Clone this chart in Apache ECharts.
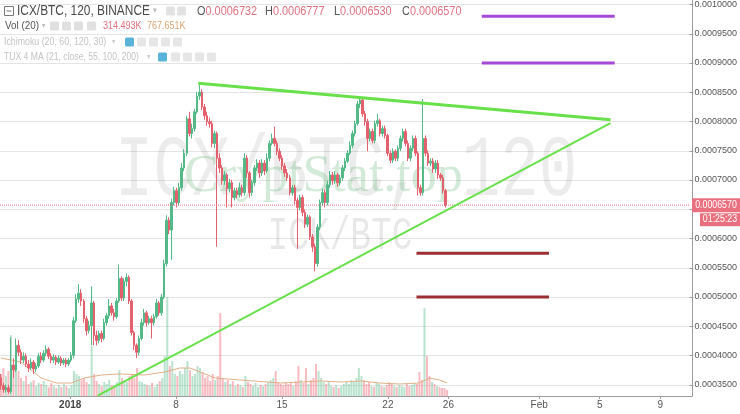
<!DOCTYPE html>
<html><head><meta charset="utf-8">
<script src="https://cdn.jsdelivr.net/npm/echarts@6/dist/echarts.min.js"></script>
<style>html,body{margin:0;padding:0;background:#fff;}#c{width:740px;height:414px;}</style>
</head><body><div id="c"></div>
<script>
// ICX/BTC (BINANCE) — bars at 4-hour resolution.
// Time index: days relative to 1 Jan 2018 00:00; first bar centred on 27 Dec 2017 10:00.
const firstBarDay = -4.5833;
const barStepDays = 4 / 24;
// Prices in units of 0.0000001 BTC
const PRICE_UNIT = 1e-7;
const opens = [3618,3483,3416,3449,3382,3837,3753,4174,4055,3921,
3988,3854,3787,3887,3770,3820,3988,3921,4038,4106,
3988,3921,3972,3887,3955,3870,3921,3854,3921,4005,
4595,4965,5066,4931,4628,4426,4510,4898,4342,4258,
4376,4291,4561,4679,4847,4729,4662,4931,5318,4982,
5268,5335,4931,4392,4174,4055,4291,4561,4729,4561,
4628,4561,4662,4898,4729,4999,5571,6312,6144,6615,
6817,6615,6868,7205,7457,8047,7794,7878,8165,8434,
8501,8249,8097,7996,7963,7626,7794,7373,7205,6986,
7087,6851,6952,6700,6817,6750,6868,6784,7373,7121,
6784,6952,7205,7289,7121,7289,7154,7373,7626,7710,
7626,7491,7373,7238,7121,7036,6784,6868,6649,6531,
6700,6447,6245,6363,6026,5858,5571,6194,6615,6784,
6615,6918,7087,6986,7087,6952,7036,7205,7322,7457,
7592,7794,7963,8299,8367,8131,7996,7710,7828,7676,
7963,8013,7794,7878,7760,7457,7339,7491,7373,7542,
7710,7828,7626,7373,7542,7710,7457,6868,6784,7710,
7457,7289,7322,7188,7289,7087,7036,6817];
const closes = [3483,3416,3449,3382,3837,3753,4174,4055,3921,3988,
3854,3787,3887,3770,3820,3988,3921,4038,4106,3988,
3921,3972,3887,3955,3870,3921,3854,3921,4005,4595,
4965,5066,4931,4628,4426,4510,4898,4342,4258,4376,
4291,4561,4679,4847,4729,4662,4931,5318,4982,5268,
5335,4931,4392,4174,4055,4291,4561,4729,4561,4628,
4561,4662,4898,4729,4999,5571,6312,6144,6615,6817,
6615,6868,7205,7457,8047,7794,7878,8165,8434,8501,
8249,8097,7996,7963,7626,7794,7373,7205,6986,7087,
6851,6952,6700,6817,6750,6868,6784,7373,7121,6784,
6952,7205,7289,7121,7289,7154,7373,7626,7710,7626,
7491,7373,7238,7121,7036,6784,6868,6649,6531,6700,
6447,6245,6363,6026,5858,5571,6194,6615,6784,6615,
6918,7087,6986,7087,6952,7036,7205,7322,7457,7592,
7794,7963,8299,8367,8131,7996,7710,7828,7676,7963,
8013,7794,7878,7760,7457,7339,7491,7373,7542,7710,
7828,7626,7373,7542,7710,7457,6868,6784,7710,7457,
7289,7322,7188,7289,7087,7036,6817,6570];
const highs = [3685,3534,3500,3500,4308,3955,4291,4258,4106,4055,
4038,3921,3955,3921,3870,4038,4055,4089,4174,4140,
4038,4022,4005,4005,3988,3955,3955,3955,4055,4662,
5049,5218,5133,4965,4679,4595,5184,4931,4426,4426,
4426,4628,4729,4965,4898,4797,4982,5554,5352,5318,
5403,5369,4965,4426,4207,4342,4628,4797,4763,4679,
4679,4712,4965,4931,5049,5638,6396,6363,6683,6885,
6868,6952,7289,7525,8097,8165,7963,8215,8501,8653,
8552,8299,8165,8064,8013,7845,7828,7457,7255,7154,
7121,7020,7003,6868,6868,6952,6918,7457,7424,7154,
7003,7255,7356,7339,7356,7339,7457,7676,7794,7912,
7676,7542,7424,7289,7188,7087,6918,6918,6700,6750,
6750,6497,6413,6396,6077,5908,6245,6666,6851,6834,
6986,7154,7137,7154,7121,7087,7255,7373,7508,7660,
7845,8013,8350,8434,8401,8182,8047,7878,7878,8013,
8131,8047,7929,7929,7794,7508,7542,7525,7592,7760,
7878,7878,7676,7592,7760,7760,7491,6918,8384,7760,
7508,7373,7373,7339,7339,7121,7087,6850];
const lows = [3416,3365,3365,3348,3348,3618,3719,3988,3854,3870,
3803,3719,3753,3685,3719,3787,3870,3887,3988,3938,
3870,3870,3837,3854,3820,3837,3803,3820,3887,3955,
4561,4898,4847,4561,4342,4376,4174,4174,4174,4207,
4224,4258,4510,4628,4679,4595,4628,4898,4931,4931,
5184,4881,4342,4089,3955,4005,4258,4510,4493,4527,
4291,4510,4628,4679,4679,4965,5521,6077,5638,6565,
6531,6565,6817,7154,7407,7744,7710,7828,8131,8367,
8198,8030,7929,7895,7559,7542,5858,7121,6918,6918,
6531,6784,6531,6649,6683,6700,6716,6733,7036,6700,
6733,6902,7154,7036,7070,7087,7121,7322,7592,7575,
7424,7322,7171,7053,6986,6733,6733,6582,5824,6480,
6380,6178,6194,5976,5773,5437,5521,6144,6565,6531,
6565,6868,6918,6935,6885,6902,6986,7154,7289,7424,
7542,7744,7929,8232,8080,7929,7491,7660,7626,7626,
7912,7744,7744,7710,7407,7289,7289,7322,7322,7491,
7660,7575,7322,7322,7491,7407,6733,6733,6733,7407,
7238,7238,7121,7121,7020,6986,6767,6530];
// Volume per bar, thousands of ICX
const volumes = [2772,3528,2520,3150,7686,3780,4410,3150,2268,1890,
2520,1512,1764,2016,1260,1638,1512,1890,1386,1134,
1638,1260,1008,1386,1134,1512,1260,1008,1386,3150,
2772,2520,2016,2268,1764,1512,6300,2772,1890,1512,
1260,1764,1512,2016,1386,1260,1764,3276,2268,1890,
1764,2520,2772,2268,3528,1890,1764,1512,1386,1260,
1638,1134,1512,1890,2268,5040,12474,3780,4410,2772,
2520,3150,2772,3528,4410,3276,2520,2772,3780,3528,
3024,2268,2520,1890,2772,2016,2520,10458,2268,1764,
2016,1512,1890,1260,1512,1386,1134,2520,1764,1512,
1260,1638,1134,1386,1260,1512,1764,2016,2268,3150,
1764,1512,1386,1638,1512,1764,1260,1890,3780,2016,
1638,3528,1512,2016,2268,4032,3150,2268,1764,1512,
1890,1260,1134,1386,1008,1260,1512,1764,1512,2016,
1764,2268,3528,2520,2016,1512,1764,1260,1134,1764,
1512,1260,1134,1386,1764,1512,1260,1134,1386,1260,
1134,1512,1260,1386,1638,1512,3024,2016,11088,5040,
2520,1764,1512,1260,1134,1008,1008,756];
// Vol (20) moving-average line, read at these bar indices
const volMABars = [0,8,16,22,28,33,40,47,57,65,71,75,79,85,95,111,119,127,135,143,150,158,166,170,174,177];
const volMA = [4798,4293,2273,1641,1641,2273,2651,2778,2651,3030,3535,3535,3030,2273,2020,1641,1768,1894,1768,1894,1641,1515,1641,2273,2020,1641];

// Time-scale labels (day index → text)
const xTickDays = [0,7,14,21,25,31,35,39];
const xTickLabels = ['2018','8','15','22','26','Feb','5','9'];
const xRange = [-4.64, 41.10];
// Price scale
const yRange = [0.0003, 0.0010];
const yStep = 0.00005;
const lastPrice = 0.0006570;
const countdown = '01:25:23';
// Drawings: [day, price]
const upperTrend = [[8.51, 0.0008653], [35.86, 0.0008030]];
const lowerTrend = [[1.84, 0.0003314], [35.86, 0.0007971]];
const purpleLevels = [0.00098, 0.0009];
const purpleSpan = [27.32, 36.14];
const redLevels = [0.000575, 0.0005];
const redSpan = [22.99, 31.78];
// Header texts
const ohlc = [['O','0.0006732'],['H','0.0006777'],['L','0.0006530'],['C','0.0006570']];
const volLegend = ['314.493K','767.651K'];

const UP = '#53b987', DOWN = '#e5606d', LAST = '#e8707f';
const FONT = '"Liberation Sans",Arial,sans-serif';
const SQ = 0.82; // horizontal squeeze of the header texts

const dayOf = i => firstBarDay + i * barStepDays;
const candleData = opens.map((o, i) => [dayOf(i), o * PRICE_UNIT, closes[i] * PRICE_UNIT, lows[i] * PRICE_UNIT, highs[i] * PRICE_UNIT]);
const volData = volumes.map((v, i) => ({
  value: [dayOf(i), v],
  itemStyle: { color: closes[i] >= opens[i] ? 'rgba(83,185,135,0.40)' : 'rgba(235,77,92,0.38)' }
}));
const maData = volMABars.map((b, j) => [dayOf(b), volMA[j]]);

const segSeries = (data, color, width, type) => ({
  type: 'line', xAxisIndex: 0, yAxisIndex: 0, data, symbol: 'none', silent: true, z: 6,
  lineStyle: { color, width, type: type || 'solid' }
});

const chart = echarts.init(document.getElementById('c'), null, { renderer: 'canvas' });
const option = {
  animation: false,
  backgroundColor: '#fff',
  grid: [
    { left: 0, right: 48, top: 0, bottom: 0 },
    { left: 0, right: 48, top: 0, bottom: 18 }
  ],
  xAxis: [
    { gridIndex: 0, type: 'value', min: xRange[0], max: xRange[1], show: false },
    { gridIndex: 1, type: 'value', min: xRange[0], max: xRange[1],
      axisLine: { show: true, onZero: false, lineStyle: { color: '#9c9c9c' } },
      axisTick: { show: true, length: 3, customValues: xTickDays, lineStyle: { color: '#9c9c9c' } },
      axisLabel: { customValues: xTickDays, margin: 4, fontSize: 10, fontFamily: FONT, color: '#555',
        formatter: v => { const i = xTickDays.indexOf(Math.round(v)); const t = i >= 0 ? xTickLabels[i] : ''; return t === '2018' ? '{b|2018}' : t; },
        rich: { b: { fontWeight: 'bold', fontSize: 10, fontFamily: FONT, color: '#444' } } },
      splitLine: { show: false } }
  ],
  yAxis: [
    { gridIndex: 0, type: 'value', position: 'right', min: yRange[0], max: yRange[1], interval: yStep,
      axisLine: { show: false, onZero: false },
      axisTick: { show: true, length: 4, lineStyle: { color: '#9c9c9c' } },
      axisLabel: { margin: 5, fontSize: 9, fontFamily: FONT, color: '#555', verticalAlignMaxLabel: 'middle',
        formatter: v => (v < 0.00034 ? '' : v.toFixed(7)) },
      splitLine: { show: true, lineStyle: { color: '#e4e4e4', width: 1 } } },
    { gridIndex: 1, type: 'value', position: 'right', min: 0, max: 50000,
      axisLine: { show: true, onZero: false, lineStyle: { color: '#9c9c9c' } },
      axisTick: { show: false }, axisLabel: { show: false }, splitLine: { show: false } }
  ],
  series: [
    { type: 'bar', name: 'Vol', xAxisIndex: 1, yAxisIndex: 1, data: volData, barWidth: 2, z: 1, silent: true },
    { type: 'line', name: 'Vol MA', xAxisIndex: 1, yAxisIndex: 1, data: maData, symbol: 'none', z: 1,
      lineStyle: { color: '#e2b088', width: 1 }, silent: true },
    segSeries([[xRange[0], lastPrice], [xRange[1], lastPrice]], LAST, 1, 'dotted'),
    { type: 'candlestick', name: 'ICX/BTC', xAxisIndex: 0, yAxisIndex: 0, data: candleData,
      encode: { x: 0, y: [1, 2, 3, 4] }, barWidth: 2, z: 3,
      itemStyle: { color: UP, color0: DOWN, borderColor: UP, borderColor0: DOWN, borderWidth: 1 } },
    segSeries(upperTrend, '#68e04a', 3),
    segSeries(lowerTrend, '#68e04a', 2),
    ...purpleLevels.map(p => segSeries([[purpleSpan[0], p], [purpleSpan[1], p]], '#a649d6', 3)),
    ...redLevels.map(p => segSeries([[redSpan[0], p], [redSpan[1], p]], '#9c2f33', 3))
  ]
};
chart.setOption(option);

// Overlay texts (watermarks, indicator legend); price boxes placed via the price scale
const g = [];
const MONO = '"Liberation Mono","DejaVu Sans Mono",monospace';
g.push({ type: 'text', x: 346, y: 172, scaleX: 0.73, z: 1, silent: true,
  style: { text: 'ICX/BTC, 120', fontSize: 88, fontFamily: MONO, fill: 'rgba(0,0,0,0.075)', align: 'center', verticalAlign: 'middle' } });
g.push({ type: 'text', x: 340, y: 237, scaleX: 0.75, z: 1, silent: true,
  style: { text: 'ICK/BTC', fontSize: 46, fontFamily: MONO, fill: 'rgba(0,0,0,0.09)', align: 'center', verticalAlign: 'middle' } });
g.push({ type: 'text', x: 184, y: 177, z: 1, silent: true,
  style: { text: 'CryptStat.top', fontSize: 52, fontFamily: '"Liberation Serif",serif', fill: 'rgba(80,170,100,0.25)', align: 'left', verticalAlign: 'middle' } });

function txt(x, y, text, size, color, sq) {
  g.push({ type: 'text', x, y, z: 20, silent: true, scaleX: sq || SQ,
    style: { text, fontSize: size, fontFamily: FONT, fill: color, align: 'left', verticalAlign: 'middle' } });
}
function icon(x, y, fill) {
  g.push({ type: 'rect', z: 20, silent: true, shape: { x, y, width: 9, height: 9, r: 1.5 }, style: { fill } });
}
// row 1
g.push({ type: 'rect', z: 20, silent: true, shape: { x: 4.5, y: 6.5, width: 9, height: 9 }, style: { fill: 'none', stroke: '#777', lineWidth: 1 } });
g.push({ type: 'line', z: 20, silent: true, shape: { x1: 6.5, y1: 11, x2: 11.5, y2: 11 }, style: { stroke: '#777', lineWidth: 1 } });
txt(17, 11, 'ICX/BTC, 120, BINANCE', 14, '#4a4a4a', 0.85);
txt(153, 11, '▾', 9, '#bbb');
icon(166, 6.5, '#e2e2e2'); icon(177, 6.5, '#e2e2e2');
const ohlcX = [197, 265, 334, 402];
ohlc.forEach((p, i) => {
  g.push({ type: 'text', x: ohlcX[i], y: 11, z: 20, silent: true, scaleX: 0.84,
    style: { text: '{a|' + p[0] + '}{b|' + p[1] + '}', fontSize: 13, fontFamily: FONT, align: 'left', verticalAlign: 'middle',
      rich: { a: { fill: '#555', fontSize: 13, fontFamily: FONT }, b: { fill: '#e0707e', fontSize: 13, fontFamily: FONT } } } });
});
// row 2
txt(5, 26, 'Vol (20)', 11, '#555', 0.9);
txt(42, 26, '▾', 8, '#bbb');
[50, 62, 74, 87].forEach(x => icon(x, 21.5, '#e0e0e0'));
txt(103, 26, volLegend[0], 11, '#e0707e');
txt(147, 26, volLegend[1], 11, '#d9a473');
// row 3
txt(4, 42, 'Ichimoku (20, 60, 120, 30)', 11, '#c4c4c4', 0.8);
txt(112, 42, '▾', 8, '#ccc');
icon(125, 37.5, '#5ab3da');
[137, 149, 161, 173].forEach(x => icon(x, 37.5, '#e6e6e6'));
// row 4
txt(4, 57, 'TUX 4 MA (21, close, 55, 100, 200)', 10.5, '#c4c4c4', 0.82);
txt(147, 57, '▾', 8, '#ccc');
icon(158, 52.5, '#5ab3da');
[171, 183, 195, 207].forEach(x => icon(x, 52.5, '#e6e6e6'));

// last-price box and countdown box on the price scale
const py = chart.convertToPixel({ yAxisIndex: 0 }, lastPrice);
g.push({ type: 'rect', z: 20, silent: true, shape: { x: 692, y: py - 7, width: 48, height: 14 }, style: { fill: LAST } });
g.push({ type: 'text', x: 716, y: py, z: 21, silent: true, scaleX: 0.88,
  style: { text: lastPrice.toFixed(7), fontSize: 10, fontFamily: FONT, fill: '#fff', align: 'center', verticalAlign: 'middle' } });
g.push({ type: 'rect', z: 20, silent: true, shape: { x: 700, y: py + 8, width: 40, height: 13 }, style: { fill: LAST } });
g.push({ type: 'text', x: 720, y: py + 14.5, z: 21, silent: true, scaleX: 0.88,
  style: { text: countdown, fontSize: 10, fontFamily: FONT, fill: '#fff', align: 'center', verticalAlign: 'middle' } });

chart.setOption({ graphic: g });
</script></body></html>
